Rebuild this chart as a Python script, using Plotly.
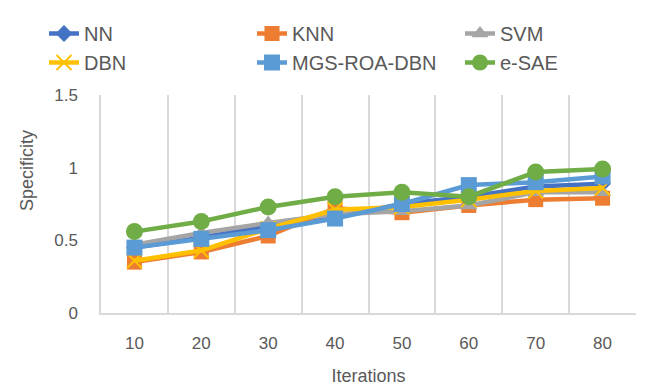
import plotly.graph_objects as go

categories = ["10", "20", "30", "40", "50", "60", "70", "80"]
nn = [0.45, 0.52, 0.60, 0.66, 0.75, 0.80, 0.87, 0.89]
knn = [0.35, 0.42, 0.53, 0.72, 0.69, 0.74, 0.78, 0.79]
svm = [0.47, 0.55, 0.62, 0.68, 0.70, 0.74, 0.83, 0.83]
dbn = [0.36, 0.43, 0.58, 0.71, 0.73, 0.78, 0.84, 0.86]
mgs = [0.45, 0.51, 0.57, 0.65, 0.75, 0.88, 0.90, 0.94]
esae = [0.56, 0.63, 0.73, 0.80, 0.83, 0.80, 0.97, 0.99]

# name, values, colour, marker, marker size, legend column
series = [
    ("NN", nn, "#4472C4", "diamond", 13, "legend"),
    ("KNN", knn, "#ED7D31", "square", 15, "legend2"),
    ("SVM", svm, "#A5A5A5", "triangle-up", 15, "legend3"),
    ("DBN", dbn, "#FFC000", "x-thin", 15, "legend"),
    ("MGS-ROA-DBN", mgs, "#5B9BD5", "square", 16, "legend2"),
    ("e-SAE", esae, "#70AD47", "circle", 17, "legend3"),
]

# the page body adds an 8px offset; figure size and margins compensate
W, H = 653, 378
ML, MR, MT, MB = 93, 25, 87, 73
xs = list(range(len(categories)))
fig = go.Figure()
for name, vals, color, sym, size, leg in series:
    marker = dict(symbol=sym, size=size, color=color)
    if sym == "x-thin":
        marker["line"] = dict(color=color, width=2)
    fig.add_trace(go.Scatter(
        x=xs, y=vals, name=name, mode="lines+markers", legend=leg,
        line=dict(color=color, width=4.5), marker=marker,
    ))

def leg(xpx):
    return dict(
        orientation="v", x=xpx / W, xref="container", xanchor="left",
        y=1 - 6 / H, yref="container", yanchor="top",
        font=dict(size=20, color="#595959"), tracegroupgap=0,
        bgcolor="rgba(0,0,0,0)", traceorder="normal",
    )

fig.update_layout(
    width=W, height=H,
    margin=dict(l=ML, r=MR, t=MT, b=MB, autoexpand=False),
    paper_bgcolor="white", plot_bgcolor="white",
    font=dict(family="Liberation Sans, Arial, sans-serif", color="#595959"),
    showlegend=True,
    legend=leg(36), legend2=leg(244), legend3=leg(452),
    xaxis=dict(
        range=[-0.5, 7.5], tickmode="array", tickvals=xs, ticktext=categories,
        showgrid=False, showline=True, linecolor="#d9d9d9", linewidth=1.5,
        ticks="", tickfont=dict(size=17, color="#595959"), zeroline=False,
        ticklabelstandoff=14,
        minor=dict(tick0=0.5, dtick=1, showgrid=True, gridcolor="#d9d9d9", gridwidth=1.5, ticks=""),
        title=dict(text="Iterations", font=dict(size=18, color="#595959"), standoff=18),
    ),
    yaxis=dict(
        range=[0, 1.5], tickmode="array", tickvals=[0, 0.5, 1, 1.5],
        ticktext=["0", "0.5", "1", "1.5"], showgrid=False, zeroline=False,
        showline=True, linecolor="#d9d9d9", linewidth=1.5, ticks="",
        ticklabelstandoff=18, tickfont=dict(size=17, color="#595959"),
    ),
    annotations=[dict(
        text="Specificity", textangle=-90, showarrow=False,
        xref="paper", yref="paper",
        x=(19 - ML) / (W - ML - MR), y=1 - (163 - MT) / (H - MT - MB),
        xanchor="center", yanchor="middle",
        font=dict(size=18, color="#595959"),
    )],
)
fig.write_html("out.html")
